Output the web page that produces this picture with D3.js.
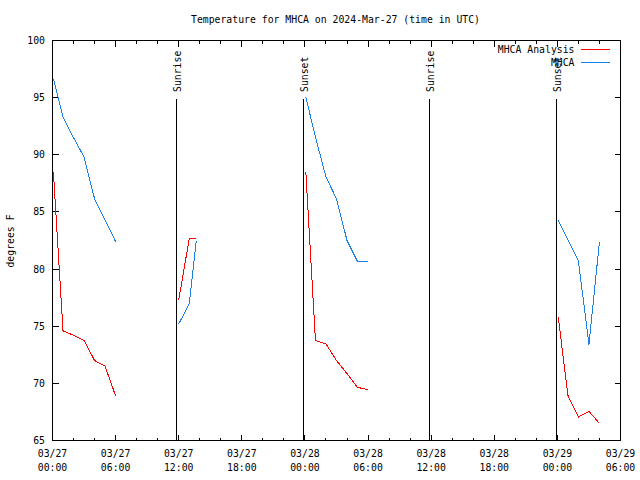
<!DOCTYPE html>
<html><head><meta charset="utf-8">
<script src="https://cdn.jsdelivr.net/npm/d3@7"></script>
<style>
body{margin:0;background:#fff;}
text{font-family:"DejaVu Sans Mono","Liberation Mono",monospace;font-size:9.8px;fill:#000;}
</style></head>
<body><svg id="c" width="640" height="480"></svg>
<script>
// ---- data ----
const titleText = "Temperature for MHCA on 2024-Mar-27 (time in UTC)";
const yLabel = "degrees F";
const times = [
  "2024-03-27T00:05","2024-03-27T01:00","2024-03-27T02:00","2024-03-27T03:00","2024-03-27T04:00","2024-03-27T05:00","2024-03-27T06:00",
  "2024-03-27T12:00","2024-03-27T13:00","2024-03-27T13:40",
  "2024-03-28T00:05","2024-03-28T01:00","2024-03-28T02:00","2024-03-28T03:00","2024-03-28T04:00","2024-03-28T05:00","2024-03-28T06:00",
  "2024-03-29T00:05","2024-03-29T01:00","2024-03-29T02:00","2024-03-29T03:00","2024-03-29T04:00"
];
const analysisValues = [88.5,74.6,74.2,73.75,72.0,71.5,68.9,
  77.3,82.65,82.65,
  88.5,73.75,73.45,72.0,70.85,69.65,69.45,
  75.8,68.95,67.05,67.55,66.5];
const obsValues = [96.65,93.3,91.5,89.8,86.15,84.3,82.4,
  75.2,76.95,82.45,
  95.05,91.55,88.05,86.15,82.5,80.65,80.65,
  84.25,82.55,80.7,73.4,82.4];
const seriesNames = ["MHCA Analysis","MHCA"];
const seriesColors = ["#ff0000","#1a80e6"];
const sunEvents = [
  {label:"Sunrise", time:"2024-03-27T11:49"},
  {label:"Sunset",  time:"2024-03-27T23:53"},
  {label:"Sunrise", time:"2024-03-28T11:49"},
  {label:"Sunset",  time:"2024-03-28T23:54"}
];
const xDomain = ["2024-03-27T00:00","2024-03-29T06:00"];
const yDomain = [65,100];
const yTicks = [65,70,75,80,85,90,95,100];

// ---- drawing ----
const parse = d3.utcParse("%Y-%m-%dT%H:%M");
const svg = d3.select("#c");
const L=52.5, R=620.5, T=40.5, B=440.5;
const x = d3.scaleUtc().domain(xDomain.map(parse)).range([L,R]);
const y = d3.scaleLinear().domain(yDomain).range([B,T]);
svg.attr("shape-rendering","crispEdges");

// title
svg.append("text").attr("x",335.5).attr("y",23).attr("text-anchor","middle").text(titleText);
// y label
svg.append("text").attr("transform","translate(14,241) rotate(-90)").attr("text-anchor","middle").text(yLabel);

// axes ticks
const majorX = d3.utcHour.every(6).range(x.domain()[0], d3.utcMinute.offset(x.domain()[1],1));
const minorX = d3.utcHour.every(2).range(x.domain()[0], d3.utcMinute.offset(x.domain()[1],1));
const g = svg.append("g").attr("stroke","#000").attr("stroke-width",1);
minorX.forEach(t=>{
  const isMajor = t.getUTCHours()%6===0;
  const len = isMajor?6:3;
  const xx = Math.round(x(t)-0.5)+0.5;
  g.append("line").attr("x1",xx).attr("x2",xx).attr("y1",B).attr("y2",B-len);
  g.append("line").attr("x1",xx).attr("x2",xx).attr("y1",T).attr("y2",T+len);
});
yTicks.forEach(v=>{
  const yy = Math.round(y(v)-0.5)+0.5;
  g.append("line").attr("x1",L).attr("x2",L+6).attr("y1",yy).attr("y2",yy);
  g.append("line").attr("x1",R).attr("x2",R-6).attr("y1",yy).attr("y2",yy);
  svg.append("text").attr("x",45).attr("y",yy).attr("dy","0.35em").attr("text-anchor","end").text(v);
});
const fmtD = d3.utcFormat("%m/%d"), fmtH = d3.utcFormat("%H:%M");
majorX.forEach(t=>{
  const tx = svg.append("text").attr("x",x(t)).attr("y",457).attr("text-anchor","middle");
  tx.append("tspan").attr("x",x(t)).text(fmtD(t));
  tx.append("tspan").attr("x",x(t)).attr("y",471).text(fmtH(t));
});

// sun events
sunEvents.forEach(e=>{
  const xx = Math.round(x(parse(e.time))-0.5)+0.5;
  g.append("line").attr("x1",xx).attr("x2",xx).attr("y1",B).attr("y2",99);
  svg.append("text").attr("transform",`translate(${xx+4.5},92) rotate(-90)`).attr("text-anchor","start").text(e.label);
});

// series
const tParsed = times.map(parse);
function segments(vals){
  const segs=[]; let cur=[];
  tParsed.forEach((t,i)=>{
    if(cur.length && (t - cur[cur.length-1].t) > 2.5*3600e3){ segs.push(cur); cur=[]; }
    if(vals[i]!=null) cur.push({t, v:vals[i]});
  });
  if(cur.length) segs.push(cur);
  return segs;
}
const line = d3.line().x(d=>x(d.t)).y(d=>y(d.v));
[obsValues, analysisValues].forEach((vals,k)=>{
  const color = k===0?seriesColors[1]:seriesColors[0];
  segments(vals).forEach(s=>{
    svg.append("path").attr("d",line(s)).attr("fill","none").attr("stroke",color).attr("stroke-width",1);
  });
});

// border
svg.append("rect").attr("x",L).attr("y",T).attr("width",R-L).attr("height",B-T).attr("fill","none").attr("stroke","#000");

// legend
seriesNames.forEach((n,i)=>{
  const yy = 49.5 + i*13;
  svg.append("text").attr("x",574.5).attr("y",yy).attr("dy","0.35em").attr("text-anchor","end").text(n);
  svg.append("line").attr("x1",581).attr("x2",609.5).attr("y1",yy).attr("y2",yy).attr("stroke",seriesColors[i]);
});
</script></body></html>
